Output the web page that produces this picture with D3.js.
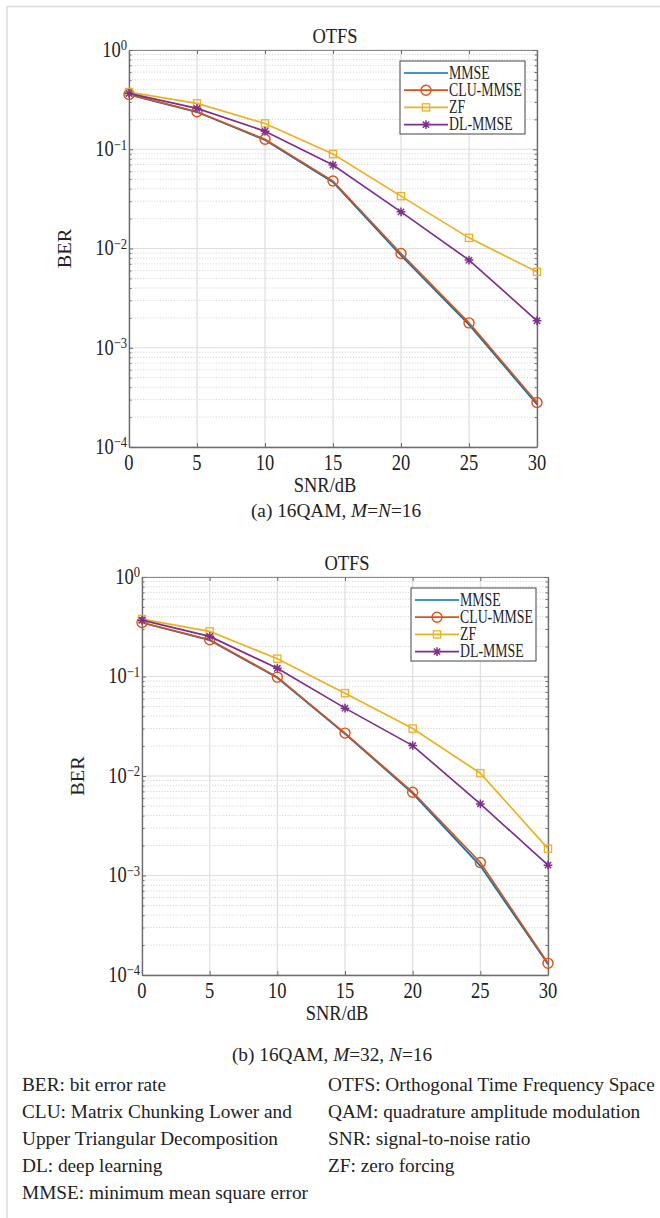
<!DOCTYPE html>
<html>
<head>
<meta charset="utf-8">
<script src="https://cdn.jsdelivr.net/npm/d3@7/dist/d3.min.js"></script>
<style>
  html, body { margin: 0; padding: 0; background: #fff; }
  svg { display: block; }
  text { font-family: "Liberation Serif", "Times New Roman", serif; fill: #222; }
</style>
</head>
<body>
<svg id="fig" width="660" height="1218"></svg>
<script>
// BER vs SNR, OTFS detectors, two panels.

const SNR = [0, 5, 10, 15, 20, 25, 30];
const SERIES = ['MMSE', 'CLU-MMSE', 'ZF', 'DL-MMSE'];
const COLORS = ['#0072BD', '#D95319', '#EDB120', '#7E2F8E'];
const MARKERS = ['none', 'circle', 'square', 'asterisk'];
const Y_TICKS = [1, 1e-1, 1e-2, 1e-3, 1e-4];
const Y_EXP = ['0', '\u22121', '\u22122', '\u22123', '\u22124'];
const X_TICKS = [0, 5, 10, 15, 20, 25, 30];

// (a) 16QAM, M=N=16
const A_MMSE = [0.355, 0.237, 0.124, 0.0465, 0.0085, 0.00171, 0.000268];
const A_CLU  = [0.357, 0.239, 0.126, 0.0478, 0.0089, 0.00178, 0.000281];
const A_ZF   = [0.377, 0.290, 0.182, 0.0895, 0.0337, 0.0128, 0.00582];
const A_DL   = [0.366, 0.258, 0.152, 0.0693, 0.0234, 0.00764, 0.00187];

// (b) 16QAM, M=32, N=16
const B_MMSE = [0.347, 0.232, 0.097, 0.0265, 0.0067, 0.00125, 0.000128];
const B_CLU  = [0.349, 0.234, 0.0986, 0.0270, 0.00687, 0.00135, 0.000131];
const B_ZF   = [0.378, 0.284, 0.151, 0.0680, 0.0300, 0.01067, 0.00186];
const B_DL   = [0.368, 0.253, 0.121, 0.0481, 0.0202, 0.00524, 0.00127];

const FOOT_LEFT = [
  'BER: bit error rate',
  'CLU: Matrix Chunking Lower and',
  'Upper Triangular Decomposition',
  'DL: deep learning',
  'MMSE: minimum mean square error',
];
const FOOT_RIGHT = [
  'OTFS: Orthogonal Time Frequency Space',
  'QAM: quadrature amplitude modulation',
  'SNR: signal-to-noise ratio',
  'ZF: zero forcing',
];

const svg = d3.select('#fig');

// page frame (light rule on top and left)
svg.append('line').attr('x1', 7).attr('x2', 660).attr('y1', 6.5).attr('y2', 6.5)
  .attr('stroke', '#dadada').attr('stroke-width', 1.5);
svg.append('line').attr('x1', 7).attr('x2', 7).attr('y1', 6).attr('y2', 1218)
  .attr('stroke', '#dadada').attr('stroke-width', 1.5);

// text stretched vertically a little, like the scaled figure
function stxt(g, x, y, str, size, sy, anchor) {
  return g.append('text')
    .attr('transform', `translate(${x},${y}) scale(1,${sy})`)
    .attr('font-size', size)
    .attr('text-anchor', anchor || 'middle')
    .text(str);
}

function marker(g, kind, cx, cy, color) {
  if (kind === 'circle') {
    g.append('circle').attr('cx', cx).attr('cy', cy).attr('r', 5)
      .attr('fill', 'none').attr('stroke', color).attr('stroke-width', 1.4);
  } else if (kind === 'square') {
    g.append('rect').attr('x', cx - 3.6).attr('y', cy - 3.6).attr('width', 7.2).attr('height', 7.2)
      .attr('fill', 'none').attr('stroke', color).attr('stroke-width', 1.3);
  } else if (kind === 'asterisk') {
    const r = 4.4, d = r * 0.72;
    const p = `M${cx},${cy - r}V${cy + r}M${cx - r},${cy}H${cx + r}` +
      `M${cx - d},${cy - d}L${cx + d},${cy + d}M${cx - d},${cy + d}L${cx + d},${cy - d}`;
    g.append('path').attr('d', p).attr('stroke', color).attr('stroke-width', 1.5).attr('fill', 'none');
  }
}

function drawPanel(cfg) {
  const { left, top, right, bottom } = cfg;
  const g = svg.append('g');
  const x = d3.scaleLinear().domain([0, 30]).range([left, right]);
  const y = d3.scaleLog().domain([1e-4, 1]).range([bottom, top]);

  const minor = [];
  for (let e = -4; e < 0; e++) for (let k = 2; k <= 9; k++) minor.push(k * Math.pow(10, e));

  // grid
  g.append('g').selectAll('line').data(minor).join('line')
    .attr('x1', left).attr('x2', right).attr('y1', d => y(d)).attr('y2', d => y(d))
    .attr('stroke', '#d6d6d6').attr('stroke-width', 1).attr('stroke-dasharray', '1.2,1.6');
  g.append('g').selectAll('line').data(Y_TICKS).join('line')
    .attr('x1', left).attr('x2', right).attr('y1', d => y(d)).attr('y2', d => y(d))
    .attr('stroke', '#dedede').attr('stroke-width', 1.2);
  g.append('g').selectAll('line').data(X_TICKS).join('line')
    .attr('x1', d => x(d)).attr('x2', d => x(d)).attr('y1', top).attr('y2', bottom)
    .attr('stroke', '#dedede').attr('stroke-width', 1.2);

  // axes with inward ticks on all four sides
  const axStyle = sel => {
    sel.selectAll('text').remove();
    sel.select('.domain').attr('stroke', '#6e6e6e').attr('stroke-width', 1.4);
    sel.selectAll('.tick line').attr('stroke', '#6e6e6e');
  };
  g.append('g').attr('transform', `translate(0,${bottom})`)
    .call(d3.axisBottom(x).tickValues(X_TICKS).tickSize(-4).tickSizeOuter(0)).call(axStyle);
  g.append('g').attr('transform', `translate(0,${top})`)
    .call(d3.axisTop(x).tickValues(X_TICKS).tickSize(-4).tickSizeOuter(0)).call(axStyle)
    .select('.domain').attr('stroke', '#8a8a8a').attr('stroke-width', 1);
  [[d3.axisLeft, left], [d3.axisRight, right]].forEach(([ax, pos]) => {
    g.append('g').attr('transform', `translate(${pos},0)`)
      .call(ax(y).tickValues(Y_TICKS).tickSize(-4).tickSizeOuter(0)).call(axStyle);
    g.append('g').attr('transform', `translate(${pos},0)`)
      .call(ax(y).tickValues(minor).tickSize(-2.5).tickSizeOuter(0)).call(axStyle)
      .select('.domain').remove();
  });

  // tick labels
  Y_TICKS.forEach((v, i) => {
    const t = stxt(g, left - 2, y(v) + 6.8, '', 18.5, 1.2, 'end');
    t.append('tspan').text('10');
    t.append('tspan').attr('dy', '-0.42em').attr('font-size', '0.68em').text(Y_EXP[i]);
  });
  X_TICKS.forEach(v => stxt(g, x(v), bottom + 23, String(v), 18.5, 1.2, 'middle'));

  // titles
  const cxp = (left + right) / 2;
  stxt(g, cxp + 2, top - 7, 'OTFS', 18.5, 1.1, 'middle');
  stxt(g, cxp - 8, bottom + 45, 'SNR/dB', 18.5, 1.12, 'middle');
  g.append('text')
    .attr('transform', `translate(${left - 58},${(top + bottom) / 2}) rotate(-90) scale(1.1,1)`)
    .attr('font-size', 18.5).attr('text-anchor', 'middle').text('BER');

  // series
  const line = d3.line().x(d => x(d[0])).y(d => y(d[1]));
  cfg.data.forEach((vals, si) => {
    const pts = SNR.map((s, i) => [s, vals[i]]);
    g.append('path').datum(pts).attr('d', line)
      .attr('fill', 'none').attr('stroke', COLORS[si]).attr('stroke-width', 1.7);
    pts.forEach(p => marker(g, MARKERS[si], x(p[0]), y(p[1]), COLORS[si]));
  });

  // legend
  const lw = 125, lh = 73;
  const lx = right - 12 - lw, ly = top + 11;
  const lg = g.append('g').attr('transform', `translate(${lx},${ly})`);
  lg.append('rect').attr('width', lw).attr('height', lh)
    .attr('fill', '#fff').attr('stroke', '#555').attr('stroke-width', 1.1);
  SERIES.forEach((name, i) => {
    const yy = 12 + i * 17.2;
    lg.append('line').attr('x1', 4).attr('x2', 48).attr('y1', yy).attr('y2', yy)
      .attr('stroke', COLORS[i]).attr('stroke-width', 1.7);
    marker(lg, MARKERS[i], 26, yy, COLORS[i]);
    stxt(lg, 49, yy + 5.8, name, 13.8, 1.3, 'start');
  });

  // caption
  const cap = svg.append('text').attr('x', cfg.capX).attr('y', cfg.capY)
    .attr('font-size', 19.3).attr('text-anchor', 'middle');
  cfg.caption.forEach(([str, it]) => {
    cap.append('tspan').attr('font-style', it ? 'italic' : 'normal').text(str);
  });
}

drawPanel({
  left: 129, top: 50, right: 537, bottom: 447,
  data: [A_MMSE, A_CLU, A_ZF, A_DL],
  capX: 336, capY: 517,
  caption: [['(a) 16QAM, ', false], ['M', true], ['=', false], ['N', true], ['=16', false]],
});
drawPanel({
  left: 142, top: 577, right: 548, bottom: 975,
  data: [B_MMSE, B_CLU, B_ZF, B_DL],
  capX: 332, capY: 1061,
  caption: [['(b) 16QAM, ', false], ['M', true], ['=32, ', false], ['N', true], ['=16', false]],
});

// abbreviations
FOOT_LEFT.forEach((s, i) => {
  svg.append('text').attr('x', 22).attr('y', 1091 + i * 27.1).attr('font-size', 19.3).text(s);
});
FOOT_RIGHT.forEach((s, i) => {
  svg.append('text').attr('x', 328).attr('y', 1091 + i * 27.1).attr('font-size', 19.3).text(s);
});
</script>
</body>
</html>
